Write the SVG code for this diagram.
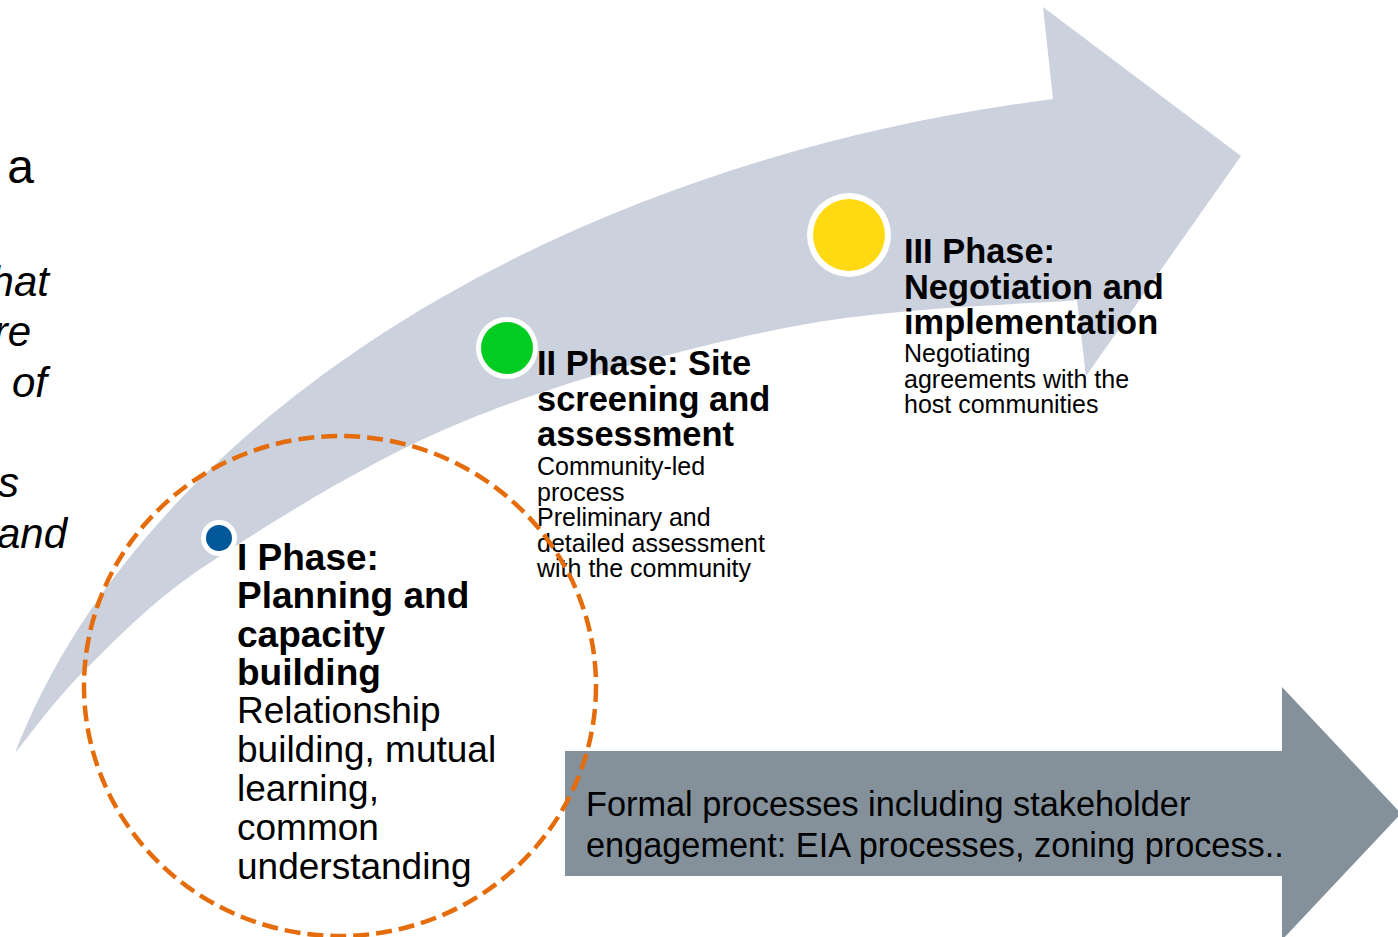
<svg xmlns="http://www.w3.org/2000/svg" width="1398" height="937" viewBox="0 0 1398 937">
  <style>
    .sans { font-family: "Liberation Sans", Arial, sans-serif; fill: #000000; }
    .title { font-weight: bold; }
    .t1 { font-size: 37px; }
    .t2 { font-size: 34.4px; }
    .body { font-size: 25px; }
    .side { font-size: 42px; font-style: italic; }
    .ring { fill: #FFFFFF; }
    .focus { fill: none; stroke: #E46C0A; stroke-width: 4.5; stroke-dasharray: 16 7; }
  </style>

  <!-- white page -->
  <rect x="0" y="0" width="1398" height="937" fill="#FFFFFF"/>

  <!-- partial text running in from the left edge -->
  <g id="side-text" class="sans">
    <text x="34" y="183" font-size="48" text-anchor="end">a</text>
    <text class="side" x="49" y="296" text-anchor="end">hat</text>
    <text class="side" x="31" y="346" text-anchor="end">re</text>
    <text class="side" x="47" y="397" text-anchor="end">of</text>
    <text class="side" x="19" y="497" text-anchor="end">s</text>
    <text class="side" x="67" y="548" text-anchor="end">and</text>
  </g>

  <g id="connectors">
    <!-- curved phase arrow -->
    <path id="phase-arrow" fill="#CBD1DD"
      d="M 15,753
         C 27,739 55,699 88,667
         C 121,635 151,601 214,560
         C 277,519 371,459 467,420
         C 563,381 688,347 790,327
         C 891.7,307 1029,304.5 1077,300
         L 1086,376 L 1241,156 L 1043,7 L 1053,99
         C 540,165 140,430 15,753 Z"/>
    <!-- formal process arrow -->
    <path id="formal-arrow" fill="#84919B"
      d="M 565,751 H 1282 V 687 L 1401,813.5 L 1282,940 V 876 H 565 Z"/>
  </g>

  <g id="formal-process" class="sans">
    <text x="586" y="816" font-size="34.3">Formal processes including stakeholder</text>
    <text x="586" y="857" font-size="34.3">engagement: EIA processes, zoning process..</text>
  </g>

  <g id="phase-1" class="sans">
    <circle class="ring" cx="219" cy="538" r="18"/>
    <circle cx="219" cy="538" r="13" fill="#00589A"/>
    <text class="title t1" x="237" y="570">I Phase:</text>
    <text class="title t1" x="237" y="608">Planning and</text>
    <text class="title t1" x="237" y="647">capacity</text>
    <text class="title t1" x="237" y="685">building</text>
    <text class="t1" x="237" y="723">Relationship</text>
    <text class="t1" x="237" y="762">building, mutual</text>
    <text class="t1" x="237" y="801">learning,</text>
    <text class="t1" x="237" y="840">common</text>
    <text class="t1" x="237" y="879">understanding</text>
  </g>

  <g id="phase-2" class="sans">
    <circle class="ring" cx="507" cy="348" r="31"/>
    <circle cx="507" cy="348" r="26" fill="#00CC22"/>
    <text class="title t2" x="537" y="375">II Phase: Site</text>
    <text class="title t2" x="537" y="410.5">screening and</text>
    <text class="title t2" x="537" y="446">assessment</text>
    <text class="body" x="537" y="475">Community-led</text>
    <text class="body" x="537" y="500.5">process</text>
    <text class="body" x="537" y="526">Preliminary and</text>
    <text class="body" x="537" y="551.5">detailed assessment</text>
    <text class="body" x="537" y="577">with the community</text>
  </g>

  <g id="phase-3" class="sans">
    <circle class="ring" cx="849" cy="235" r="42"/>
    <circle cx="849" cy="235" r="36" fill="#FFD911"/>
    <text class="title t2" x="904" y="263">III Phase:</text>
    <text class="title t2" x="904" y="298.5">Negotiation and</text>
    <text class="title t2" x="904" y="334">implementation</text>
    <text class="body" x="904" y="362">Negotiating</text>
    <text class="body" x="904" y="387.5">agreements with the</text>
    <text class="body" x="904" y="413">host communities</text>
  </g>

  <!-- dashed focus ring around the first phase -->
  <g id="focus-ring">
    <ellipse class="focus" cx="340" cy="686" rx="256" ry="250"/>
  </g>
</svg>
